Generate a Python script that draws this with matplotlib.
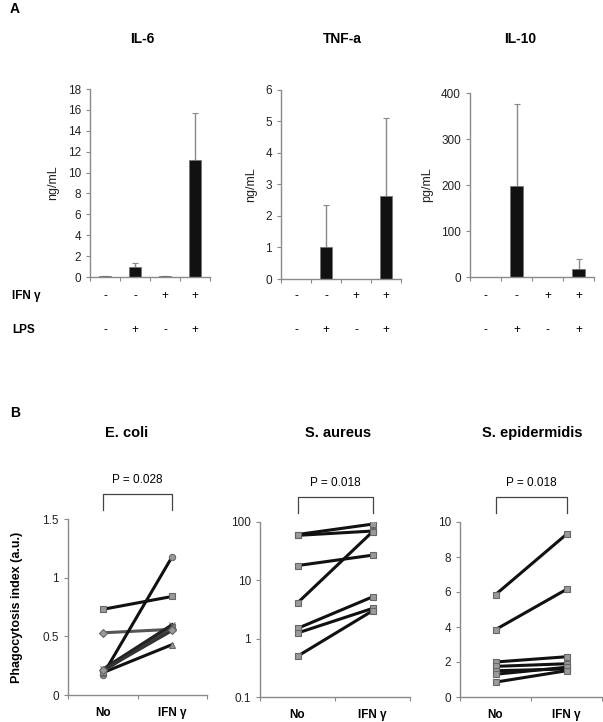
import numpy as np
import matplotlib
matplotlib.use('Agg')
from matplotlib import pyplot as plt
from matplotlib.transforms import blended_transform_factory
from matplotlib.ticker import FixedLocator, NullLocator

plt.rcParams['font.family'] = ['Liberation Sans', 'DejaVu Sans']

# Panel A: cytokine secretion
ifn_signs = ['-', '-', '+', '+']
lps_signs = ['-', '+', '-', '+']

il6_mean = [0.05, 0.95, 0.08, 11.2]
il6_err = [0.04, 0.35, 0.04, 4.5]
tnf_mean = [0.0, 1.02, 0.0, 2.65]
tnf_err = [0.0, 1.33, 0.0, 2.45]
il10_mean = [0.0, 197, 0.0, 18]
il10_err = [0.0, 180, 0.0, 22]

# Panel B: phagocytosis index, No vs IFN gamma
groups = ['No', 'IFN γ']
ecoli_no = [0.73, 0.53, 0.17, 0.19, 0.20, 0.22, 0.21]
ecoli_ifn = [0.84, 0.56, 1.18, 0.43, 0.58, 0.60, 0.55]
aureus_no = [61, 59, 17.9, 4.1, 1.5, 1.25, 0.5]
aureus_ifn = [92, 70, 27, 68, 5.2, 3.3, 3.0]
epi_no = [5.85, 3.85, 2.0, 1.75, 1.5, 1.3, 0.85]
epi_ifn = [9.3, 6.15, 2.3, 1.9, 1.6, 1.7, 1.5]

W, H = 603, 722
fig = plt.figure(figsize=(W / 100, H / 100), dpi=100)

def box(left, right, top, bottom):
    return [left / W, 1 - bottom / H, (right - left) / W, (bottom - top) / H]

def style(ax):
    for s in ['top', 'right']:
        ax.spines[s].set_visible(False)
    for s in ['left', 'bottom']:
        ax.spines[s].set_color('#8a8a8a')
        ax.spines[s].set_linewidth(1.0)
    ax.tick_params(colors='#8a8a8a', labelcolor='#222222', labelsize=8.5,
                   length=3, width=0.8, direction='out')

def bar_panel(rect, title, title_x, mean, err, ylim, yticks, ylabel):
    ax = fig.add_axes(box(*rect))
    x = np.arange(len(mean))
    ax.bar(x, mean, width=0.42, color='#111111', edgecolor='#777777', linewidth=0.6, zorder=2)
    for xi, m, e in zip(x, mean, err):
        if e > 0:
            ax.errorbar(xi, m, yerr=[[0], [e]], fmt='none', ecolor='#8a8a8a',
                        elinewidth=1.0, capsize=2, capthick=0.8, zorder=1)
    ax.set_xlim(-0.5, len(mean) - 0.5)
    ax.set_ylim(*ylim)
    ax.set_yticks(yticks)
    ax.xaxis.set_major_locator(FixedLocator(np.arange(len(mean) + 1) - 0.5))
    ax.set_xticklabels([])
    ax.set_ylabel(ylabel, fontsize=9, color='#222222', labelpad=6)
    style(ax)
    fig.text(title_x / W, 1 - 39 / H, title, ha='center', va='center',
             fontsize=10, fontweight='bold')
    tr = blended_transform_factory(ax.transData, fig.transFigure)
    for xi, a, b in zip(x, ifn_signs, lps_signs):
        ax.text(xi, 1 - 296 / H, a, transform=tr, ha='center', va='center', fontsize=8.5)
        ax.text(xi, 1 - 330 / H, b, transform=tr, ha='center', va='center', fontsize=8.5)
    return ax

bar_panel((90, 210, 89, 277), 'IL-6', 142, il6_mean, il6_err, (0, 18), range(0, 19, 2), 'ng/mL')
bar_panel((281, 401, 90, 279), 'TNF-a', 342, tnf_mean, tnf_err, (0, 6), range(0, 7), 'ng/mL')
bar_panel((470, 594, 93, 277), 'IL-10', 520, il10_mean, il10_err, (0, 400), range(0, 401, 100), 'pg/mL')

fig.text(10 / W, 1 - 9 / H, 'A', ha='left', va='center', fontsize=10, fontweight='bold')
fig.text(12 / W, 1 - 296 / H, 'IFN γ', ha='left', va='center', fontsize=8.5, fontweight='bold')
fig.text(12 / W, 1 - 330 / H, 'LPS', ha='left', va='center', fontsize=8.5, fontweight='bold')

# Panel B
fig.text(10 / W, 1 - 413 / H, 'B', ha='left', va='center', fontsize=10, fontweight='bold')

def pair_panel(rect, title, title_x, no, ifn, pval, markers=None, colors=None):
    ax = fig.add_axes(box(*rect))
    n = len(no)
    if markers is None:
        markers = ['s'] * n
    if colors is None:
        colors = ['#111111'] * n
    for i in range(n):
        ax.plot([0, 1], [no[i], ifn[i]], color=colors[i], linewidth=2.2,
                marker=markers[i], markersize=4.5, markerfacecolor='#9a9a9a',
                markeredgecolor='#666666', markeredgewidth=0.8, zorder=3)
    ax.set_xlim(-0.5, 1.5)
    ax.xaxis.set_major_locator(FixedLocator([-0.5, 0.5, 1.5]))
    ax.set_xticklabels([])
    for xi, g in enumerate(groups):
        ax.text(xi, -0.07, g, transform=ax.get_xaxis_transform(), ha='center', va='top',
                fontsize=8.5, fontweight='bold')
    style(ax)
    fig.text(title_x / W, 1 - 433 / H, title, ha='center', va='center',
             fontsize=10.5, fontweight='bold')
    tr = ax.get_xaxis_transform()
    h = rect[3] - rect[2]
    top = 1 + 25 / h
    leg = 1 + 9 / h
    ax.plot([0, 0, 1, 1], [leg, top, top, leg], color='#444444', linewidth=0.9,
            transform=tr, clip_on=False)
    ax.text(0.5, 1 + 39 / h, pval, transform=tr, ha='center', va='center', fontsize=8.5)
    return ax

ax1 = pair_panel((68, 207, 519, 695), 'E. coli', 127, ecoli_no, ecoli_ifn, 'P = 0.028',
                 markers=['s', 'D', 'o', '^', 's', 'x', 'D'],
                 colors=['#111111', '#555555', '#111111', '#111111', '#444444', '#222222', '#333333'])
ax1.set_ylim(0, 1.5)
ax1.set_yticks([0, 0.5, 1, 1.5])
ax1.set_yticklabels(['0', '0.5', '1', '1.5'])
ax1.set_ylabel('Phagocytosis index (a.u.)', fontsize=9, fontweight='bold', labelpad=14)

ax2 = pair_panel((260, 410, 522, 697), 'S. aureus', 338, aureus_no, aureus_ifn, 'P = 0.018')
ax2.set_yscale('log')
ax2.set_ylim(0.1, 100)
ax2.set_yticks([0.1, 1, 10, 100])
ax2.set_yticklabels(['0.1', '1', '10', '100'])
ax2.yaxis.set_minor_locator(NullLocator())

ax3 = pair_panel((460, 602, 522, 697), 'S. epidermidis', 532, epi_no, epi_ifn, 'P = 0.018')
ax3.set_ylim(0, 10)
ax3.set_yticks(range(0, 11, 2))

fig.savefig('out.png', dpi=100)
